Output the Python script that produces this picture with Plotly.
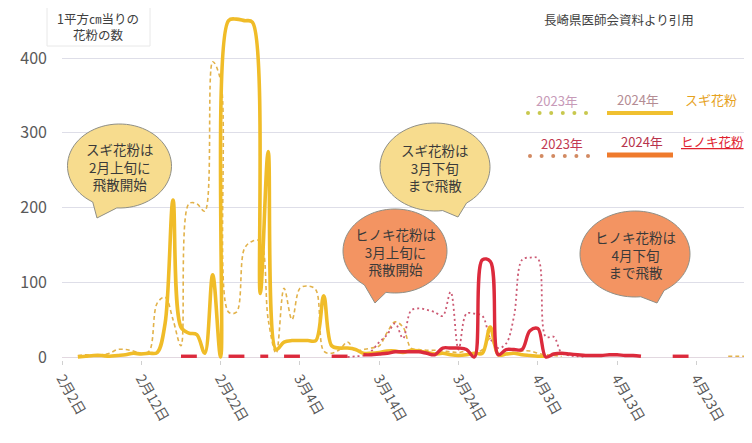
import math
import pandas as pd
import plotly.graph_objects as go

# ---------------- data (daily values from Feb 2) ----------------
N = 88
start_date = "2023-02-02"
tick_labels = ["2月2日", "2月12日", "2月22日", "3月4日", "3月14日",
               "3月24日", "4月3日", "4月13日", "4月23日"]
y_ticks = [0, 100, 200, 300, 400]

sugi_2023 = [None, None, 2, 3, 2, 3, 5, 10, 10, 8,
             5, 8, 72, 80, 50, 15, 205, 205, 195, 395,
             370, 60, 60, 145, 155, 155, 50, 5, 92, 50,
             92, 95, 90, 8, 5, 10, 20, 8, 10, 12,
             15, 33, 47, 40, 12, 10, 9, 9, 8, 7,
             6, 8, 5, 10, 25, 5, 5, 5, 8, 8,
             5, 3, 2, 1, None, None, None, None, None, None,
             None, None, None, None, None, None, None, None, None, None,
             None, None, None, None, 1, 1, 1, 1]

sugi_2024 = [None, None, 0, 1, 2, 2, 1, 2, 3, 5,
             4, 5, 6, 45, 210, 40, 32, 30, 5, 110,
             0, 450, 452, 450, 448, 85, 275, 10, 20, 22,
             22, 22, 22, 82, 15, 12, 12, 10, 5, 5,
             6, 8, 8, 6, 9, 8, 6, 4, 5, 3,
             2, 3, 5, 5, 40, 3, 4, 5, 3, 2,
             1, 1, None, None, None, None, None, None, None, None,
             None, None, None, None, None, None, None, None, None, None,
             None, None, None, None, None, None, None, None]

hinoki_2023 = [None] * 36 + [0, 1, 2, 8,
               20, 30, 45, 25, 62, 65, 63, 60, 55, 87,
               10, 58, 58, 55, 25, 12, 18, 55, 130, 133,
               132, 27, 27, 5, 2, 1, 0] + [None] * 21

hinoki_2024 = ([None] * 15 + [1, 1, 1, None, None, None, 1, 1, 1, None,
               1, 1, None, 1, 1, 1, None, None, None, 1, 1, 1, None,
               3, 3, 4, 5, 7, 7, 7, 7, 5, 3, 12, 12, 12, 10, 0, 130, 128, 3,
               10, 10, 10, 35, 38, 0, 4, 5, 4, 3, 2, 2, 2, 3, 3, 2, 2, 1,
               None, None, None, 1, 1, 1] + [None] * 8)

dates = pd.date_range(start_date, periods=N, freq="D")
tick_dates = dates[::10][:len(tick_labels)]

# ---------------- geometry helpers (page pixel coords) ----------------
# the page body has an 8px margin, so the figure starts at (8, 8)
OFF = 8
FW, FH = 744, 427
PL, PR, PT, PB = 62, 752, 8, 360   # plot area in page pixels
ML = PL - OFF
MT = PT - OFF
MB = FH + OFF - PB
MR = FW + OFF - PR


def px(x):
    return (x - PL) / (PR - PL)


def py(y):
    return (PB - y) / (PB - PT)


FONT = "Noto Sans CJK JP"

fig = go.Figure()

series = [
    (sugi_2023, dict(color="#e2b24a", width=1.6, dash="4px,3px")),
    (hinoki_2023, dict(color="#cc5a74", width=1.8, dash="2px,3px")),
    (sugi_2024, dict(color="#f0bc28", width=3.6)),
    (hinoki_2024, dict(color="#dc2a3c", width=3.4)),
]
for vals, ln in series:
    fig.add_trace(go.Scatter(
        x=dates, y=vals, mode="lines",
        line=dict(shape="spline", smoothing=1.0, **ln),
        connectgaps=False, hoverinfo="skip", showlegend=False))

shapes = []
annotations = []


def text_at(x, y, text, color, size=13, **kw):
    annotations.append(dict(x=px(x), y=py(y), xref="paper", yref="paper",
                            text=text, showarrow=False,
                            xanchor="center", yanchor="middle", align="center",
                            font=dict(family=FONT, size=size, color=color), **kw))


def bubble(cx, cy, rx, ry, t1, t2, tip, fill, lines):
    pts = []
    n = 72
    span = 360 - (t2 - t1)
    for i in range(n + 1):
        a = math.radians(t2 + span * i / n)
        pts.append((cx + rx * math.cos(a), cy + ry * math.sin(a)))
    pts.append(tip)
    path = "M " + " L ".join(f"{px(x):.5f},{py(y):.5f}" for x, y in pts) + " Z"
    shapes.append(dict(type="path", xref="paper", yref="paper", path=path,
                       fillcolor=fill, line=dict(color="#8f8f86", width=1),
                       layer="above"))
    text_at(cx, cy, "<br>".join(lines), "#3a3a3a", size=13.5)


bubble(119.5, 166, 52, 42, 93, 121, (97, 218), "#f7dc8e",
       ["スギ花粉は", "2月上旬に", "飛散開始"])
bubble(435, 167, 55, 44, 55, 82, (458, 217), "#f7dc8e",
       ["スギ花粉は", "3月下旬", "まで飛散"])
bubble(395, 251, 52, 42, 100, 126, (375, 303), "#f39462",
       ["ヒノキ花粉は", "3月上旬に", "飛散開始"])
bubble(635, 254, 55, 43, 58, 84, (657, 303), "#f39462",
       ["ヒノキ花粉は", "4月下旬", "まで飛散"])

# title box and source
shapes.append(dict(type="rect", xref="paper", yref="paper",
                   x0=px(47), x1=px(150), y0=py(46), y1=py(5),
                   fillcolor="white", line=dict(color="#e8e8e8", width=1),
                   layer="above"))
text_at(98, 26, "1平方㎝当りの<br>花粉の数", "#404040", size=12.5)
text_at(619, 20, "長崎県医師会資料より引用", "#404040", size=12.5)

# legend rows
text_at(557, 100, "2023年", "#c79ab8")
text_at(638, 99, "2024年", "#b48c94")
text_at(711, 99, "スギ花粉", "#e6a21e")
text_at(562, 143, "2023年", "#c23a52")
text_at(642, 141, "2024年", "#b8344c")
text_at(712, 141, "<u>ヒノキ花粉</u>", "#e0202e", size=12.5)


def dots(x0, y, color):
    for i in range(6):
        cx = x0 + i * 11.6
        shapes.append(dict(type="circle", xref="paper", yref="paper",
                           x0=px(cx - 2), x1=px(cx + 2), y0=py(y + 2), y1=py(y - 2),
                           fillcolor=color, line=dict(width=0)))


dots(528, 113, "#c8c84e")
dots(530, 156, "#d28a62")
shapes.append(dict(type="line", xref="paper", yref="paper",
                   x0=px(607), x1=px(673), y0=py(113), y1=py(113),
                   line=dict(color="#f0c030", width=4)))
shapes.append(dict(type="line", xref="paper", yref="paper",
                   x0=px(607), x1=px(673), y0=py(155), y1=py(155),
                   line=dict(color="#ef7a2c", width=5)))

fig.update_layout(
    width=FW, height=FH,
    margin=dict(l=ML, r=MR, t=MT, b=MB, autoexpand=False),
    paper_bgcolor="white", plot_bgcolor="white",
    font=dict(family=FONT),
    shapes=shapes, annotations=annotations,
    xaxis=dict(type="date", range=["2023-02-02", "2023-04-30"],
               tickvals=list(tick_dates), ticktext=tick_labels,
               tickangle=60, tickfont=dict(size=14, color="#595959", family=FONT),
               ticks="outside", ticklen=4, tickcolor="#d0d0d0",
               showgrid=False, showline=False, zeroline=False, automargin=False),
    yaxis=dict(range=[-4, 466.9], tickvals=y_ticks,
               tickfont=dict(size=16, color="#595959", family=FONT),
               gridcolor="#dedee8", gridwidth=1,
               zeroline=True, zerolinecolor="#e2d8e0", zerolinewidth=1,
               showline=False, ticklabelstandoff=14, automargin=False),
)

fig.write_html("out.html")
